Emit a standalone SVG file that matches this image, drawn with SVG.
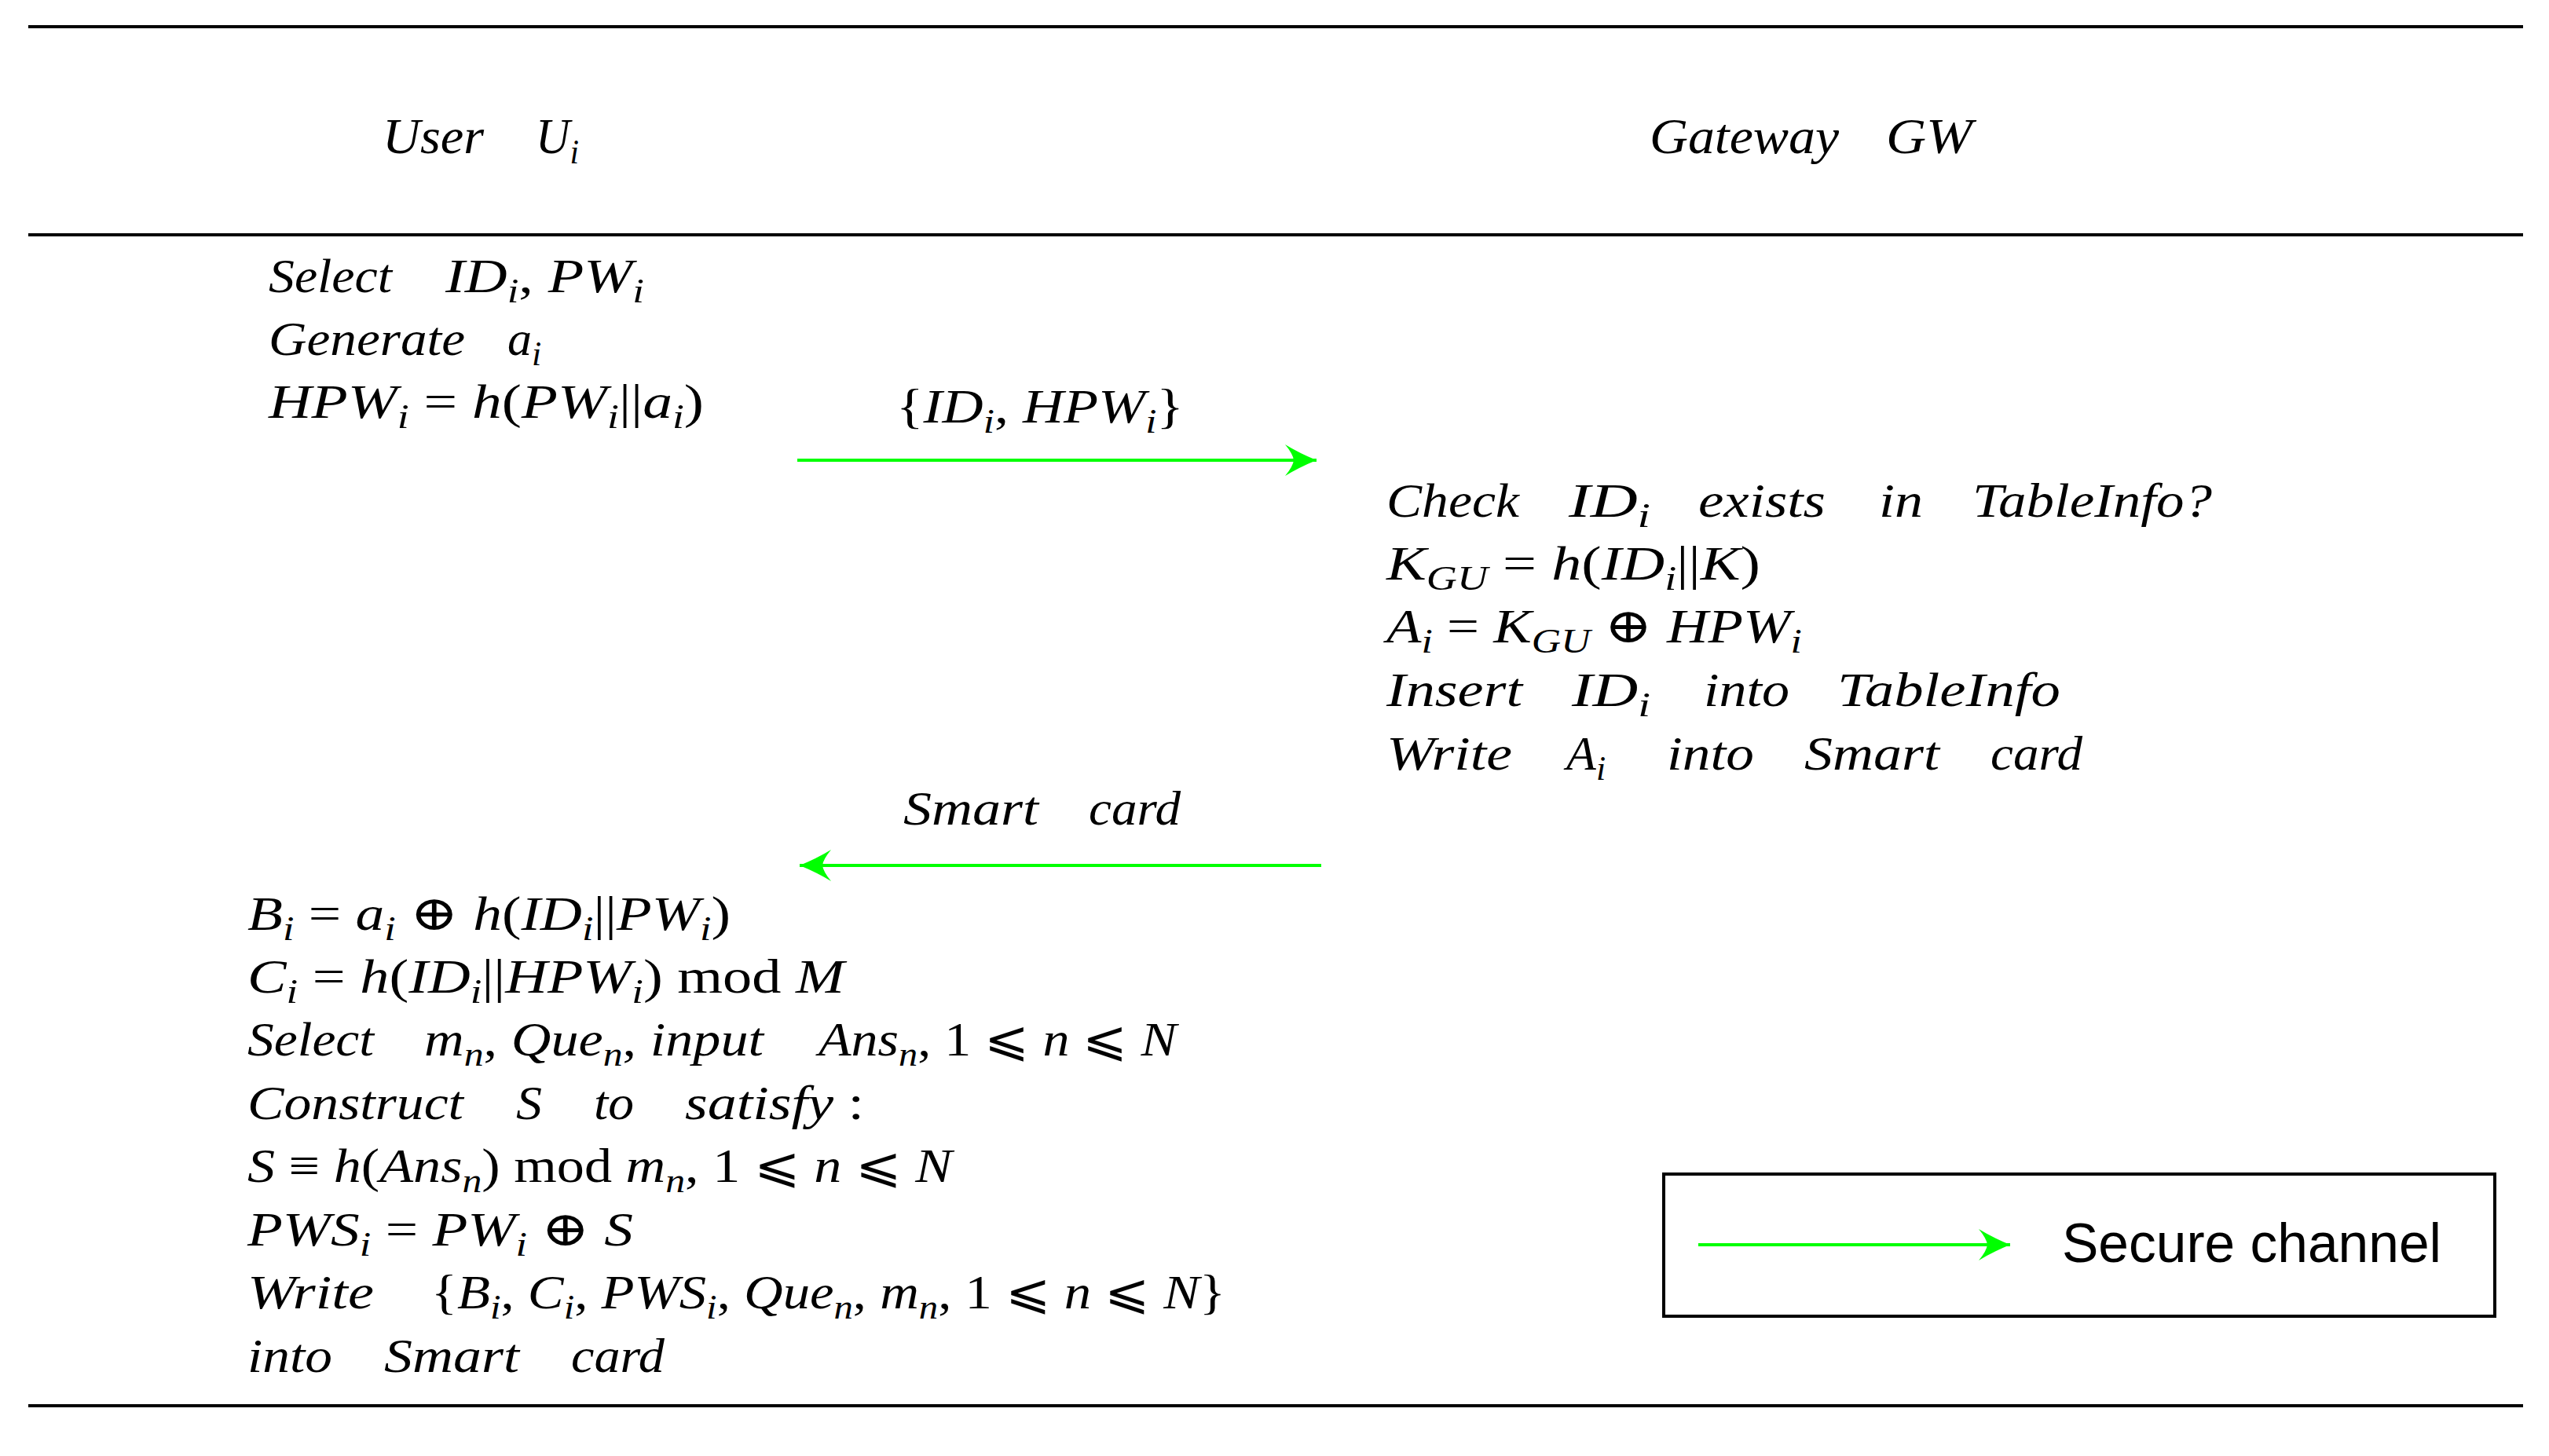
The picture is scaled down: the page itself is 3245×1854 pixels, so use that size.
<svg xmlns="http://www.w3.org/2000/svg" width="3245" height="1854" viewBox="0 0 3245 1854">
<style>
.t{font-family:"Liberation Serif","DejaVu Serif",serif;font-size:62px;font-style:italic;fill:#000}
.h{font-size:64px}
.r{font-style:normal}
.s{font-size:44px}
.rule{stroke:#000;stroke-width:4;fill:none}
.g{stroke:#00ff00;stroke-width:4;fill:none}
.leg{font-family:"Liberation Sans",Arial,sans-serif;font-size:70px;fill:#000}
</style>
<defs>
<marker id="ah" markerUnits="userSpaceOnUse" viewBox="-42 -22 44 44" refX="0" refY="0" markerWidth="44" markerHeight="44" orient="auto">
<path d="M0,0 Q-22,-9 -40,-20 Q-30,-8 -29,0 Q-30,8 -40,20 Q-22,9 0,0 Z" fill="#00ff00"/>
</marker>
</defs>
<rect width="3245" height="1854" fill="#fff"/>
<g id="rules">
<line class="rule" x1="36" y1="34" x2="3212" y2="34"/>
<line class="rule" x1="36" y1="299" x2="3212" y2="299"/>
<line class="rule" x1="36" y1="1790" x2="3212" y2="1790"/>
</g>
<g id="user-header">
<text class="t h" x="487" y="195" textLength="129" lengthAdjust="spacingAndGlyphs">User</text>
<text class="t h" x="682" y="195" textLength="55" lengthAdjust="spacingAndGlyphs">U<tspan class="s" dy="13">i</tspan></text>
</g>
<g id="gateway-header">
<text class="t h" x="2100" y="195" textLength="241" lengthAdjust="spacingAndGlyphs">Gateway</text>
<text class="t h" x="2401" y="195" textLength="110" lengthAdjust="spacingAndGlyphs">GW</text>
</g>
<g id="user-step-1">
<text class="t" x="342" y="372" textLength="157" lengthAdjust="spacingAndGlyphs">Select</text>
<text class="t" x="567" y="372" textLength="253" lengthAdjust="spacingAndGlyphs">ID<tspan class="s" dy="13">i</tspan><tspan class="r" dy="-13">, </tspan>PW<tspan class="s" dy="13">i</tspan></text>
<text class="t" x="342" y="452" textLength="250" lengthAdjust="spacingAndGlyphs">Generate</text>
<text class="t" x="646" y="452">a<tspan class="s" dy="13">i</tspan></text>
<text class="t" x="342" y="532" textLength="554" lengthAdjust="spacingAndGlyphs">HPW<tspan class="s" dy="13">i</tspan><tspan class="r" dy="-13"> = </tspan>h<tspan class="r">(</tspan>PW<tspan class="s" dy="13">i</tspan><tspan class="r" dy="-13">||</tspan>a<tspan class="s" dy="13">i</tspan><tspan class="r" dy="-13">)</tspan></text>
</g>
<g id="gateway-step">
<text class="t" x="1765" y="658" textLength="169" lengthAdjust="spacingAndGlyphs">Check</text>
<text class="t" x="1997" y="658" textLength="104" lengthAdjust="spacingAndGlyphs">ID<tspan class="s" dy="13">i</tspan></text>
<text class="t" x="2162" y="658" textLength="162" lengthAdjust="spacingAndGlyphs">exists</text>
<text class="t" x="2392" y="658" textLength="56" lengthAdjust="spacingAndGlyphs">in</text>
<text class="t" x="2511" y="658" textLength="305" lengthAdjust="spacingAndGlyphs">TableInfo?</text>
<text class="t" x="1765" y="738" textLength="476" lengthAdjust="spacingAndGlyphs">K<tspan class="s" dy="13">GU</tspan><tspan class="r" dy="-13"> = </tspan>h<tspan class="r">(</tspan>ID<tspan class="s" dy="13">i</tspan><tspan class="r" dy="-13">||</tspan>K<tspan class="r">)</tspan></text>
<text class="t" x="1765" y="818" textLength="529" lengthAdjust="spacingAndGlyphs">A<tspan class="s" dy="13">i</tspan><tspan class="r" dy="-13"> = </tspan>K<tspan class="s" dy="13">GU</tspan><tspan class="r" dy="-13"> ⊕ </tspan>HPW<tspan class="s" dy="13">i</tspan></text>
<text class="t" x="1765" y="899" textLength="173" lengthAdjust="spacingAndGlyphs">Insert</text>
<text class="t" x="2001" y="899" textLength="100" lengthAdjust="spacingAndGlyphs">ID<tspan class="s" dy="13">i</tspan></text>
<text class="t" x="2169" y="899" textLength="109" lengthAdjust="spacingAndGlyphs">into</text>
<text class="t" x="2339" y="899" textLength="284" lengthAdjust="spacingAndGlyphs">TableInfo</text>
<text class="t" x="1765" y="980" textLength="160" lengthAdjust="spacingAndGlyphs">Write</text>
<text class="t" x="1994" y="980">A<tspan class="s" dy="13">i</tspan></text>
<text class="t" x="2122" y="980" textLength="111" lengthAdjust="spacingAndGlyphs">into</text>
<text class="t" x="2297" y="980" textLength="172" lengthAdjust="spacingAndGlyphs">Smart</text>
<text class="t" x="2534" y="980" textLength="117" lengthAdjust="spacingAndGlyphs">card</text>
</g>
<g id="user-step-2">
<text class="t" x="315" y="1184" textLength="615" lengthAdjust="spacingAndGlyphs">B<tspan class="s" dy="13">i</tspan><tspan class="r" dy="-13"> = </tspan>a<tspan class="s" dy="13">i</tspan><tspan class="r" dy="-13"> ⊕ </tspan>h<tspan class="r">(</tspan>ID<tspan class="s" dy="13">i</tspan><tspan class="r" dy="-13">||</tspan>PW<tspan class="s" dy="13">i</tspan><tspan class="r" dy="-13">)</tspan></text>
<text class="t" x="315" y="1264" textLength="760" lengthAdjust="spacingAndGlyphs">C<tspan class="s" dy="13">i</tspan><tspan class="r" dy="-13"> = </tspan>h<tspan class="r">(</tspan>ID<tspan class="s" dy="13">i</tspan><tspan class="r" dy="-13">||</tspan>HPW<tspan class="s" dy="13">i</tspan><tspan class="r" dy="-13">) mod </tspan>M</text>
<text class="t" x="315" y="1344" textLength="161" lengthAdjust="spacingAndGlyphs">Select</text>
<text class="t" x="540" y="1344" textLength="432" lengthAdjust="spacingAndGlyphs">m<tspan class="s" dy="13">n</tspan><tspan class="r" dy="-13">, </tspan>Que<tspan class="s" dy="13">n</tspan><tspan class="r" dy="-13">, </tspan>input</text>
<text class="t" x="1042" y="1344" textLength="456" lengthAdjust="spacingAndGlyphs">Ans<tspan class="s" dy="13">n</tspan><tspan class="r" dy="-13">, 1 ⩽ </tspan>n<tspan class="r"> ⩽ </tspan>N</text>
<text class="t" x="315" y="1425" textLength="275" lengthAdjust="spacingAndGlyphs">Construct</text>
<text class="t" x="657" y="1425" textLength="33" lengthAdjust="spacingAndGlyphs">S</text>
<text class="t" x="756" y="1425" textLength="51" lengthAdjust="spacingAndGlyphs">to</text>
<text class="t" x="872" y="1425" textLength="228" lengthAdjust="spacingAndGlyphs">satisfy<tspan class="r"> :</tspan></text>
<text class="t" x="315" y="1505" textLength="897" lengthAdjust="spacingAndGlyphs">S<tspan class="r"> ≡ </tspan>h<tspan class="r">(</tspan>Ans<tspan class="s" dy="13">n</tspan><tspan class="r" dy="-13">) mod </tspan>m<tspan class="s" dy="13">n</tspan><tspan class="r" dy="-13">, 1 ⩽ </tspan>n<tspan class="r"> ⩽ </tspan>N</text>
<text class="t" x="315" y="1586" textLength="491" lengthAdjust="spacingAndGlyphs">PWS<tspan class="s" dy="13">i</tspan><tspan class="r" dy="-13"> = </tspan>PW<tspan class="s" dy="13">i</tspan><tspan class="r" dy="-13"> ⊕ </tspan>S</text>
<text class="t" x="315" y="1666" textLength="161" lengthAdjust="spacingAndGlyphs">Write</text>
<text class="t" x="549" y="1666" textLength="1011" lengthAdjust="spacingAndGlyphs"><tspan class="r">{</tspan>B<tspan class="s" dy="13">i</tspan><tspan class="r" dy="-13">, </tspan>C<tspan class="s" dy="13">i</tspan><tspan class="r" dy="-13">, </tspan>PWS<tspan class="s" dy="13">i</tspan><tspan class="r" dy="-13">, </tspan>Que<tspan class="s" dy="13">n</tspan><tspan class="r" dy="-13">, </tspan>m<tspan class="s" dy="13">n</tspan><tspan class="r" dy="-13">, 1 ⩽ </tspan>n<tspan class="r"> ⩽ </tspan>N<tspan class="r">}</tspan></text>
<text class="t" x="315" y="1747" textLength="108" lengthAdjust="spacingAndGlyphs">into</text>
<text class="t" x="489" y="1747" textLength="172" lengthAdjust="spacingAndGlyphs">Smart</text>
<text class="t" x="727" y="1747" textLength="119" lengthAdjust="spacingAndGlyphs">card</text>
</g>
<g id="connectors">
<line class="g" x1="1015" y1="586" x2="1676" y2="586" marker-end="url(#ah)"/>
<text class="t" x="1141" y="538" textLength="366" lengthAdjust="spacingAndGlyphs"><tspan class="r">{</tspan>ID<tspan class="s" dy="13">i</tspan><tspan class="r" dy="-13">, </tspan>HPW<tspan class="s" dy="13">i</tspan><tspan class="r" dy="-13">}</tspan></text>
<line class="g" x1="1682" y1="1102" x2="1018" y2="1102" marker-end="url(#ah)"/>
<text class="t" x="1150" y="1050" textLength="172" lengthAdjust="spacingAndGlyphs">Smart</text>
<text class="t" x="1386" y="1050" textLength="117" lengthAdjust="spacingAndGlyphs">card</text>
</g>
<g id="legend">
<rect x="2118" y="1495" width="1058" height="181" fill="none" stroke="#000" stroke-width="4"/>
<line class="g" x1="2162" y1="1585" x2="2559" y2="1585" marker-end="url(#ah)"/>
<text class="leg" x="2625" y="1607" textLength="483" lengthAdjust="spacingAndGlyphs">Secure channel</text>
</g>
</svg>
